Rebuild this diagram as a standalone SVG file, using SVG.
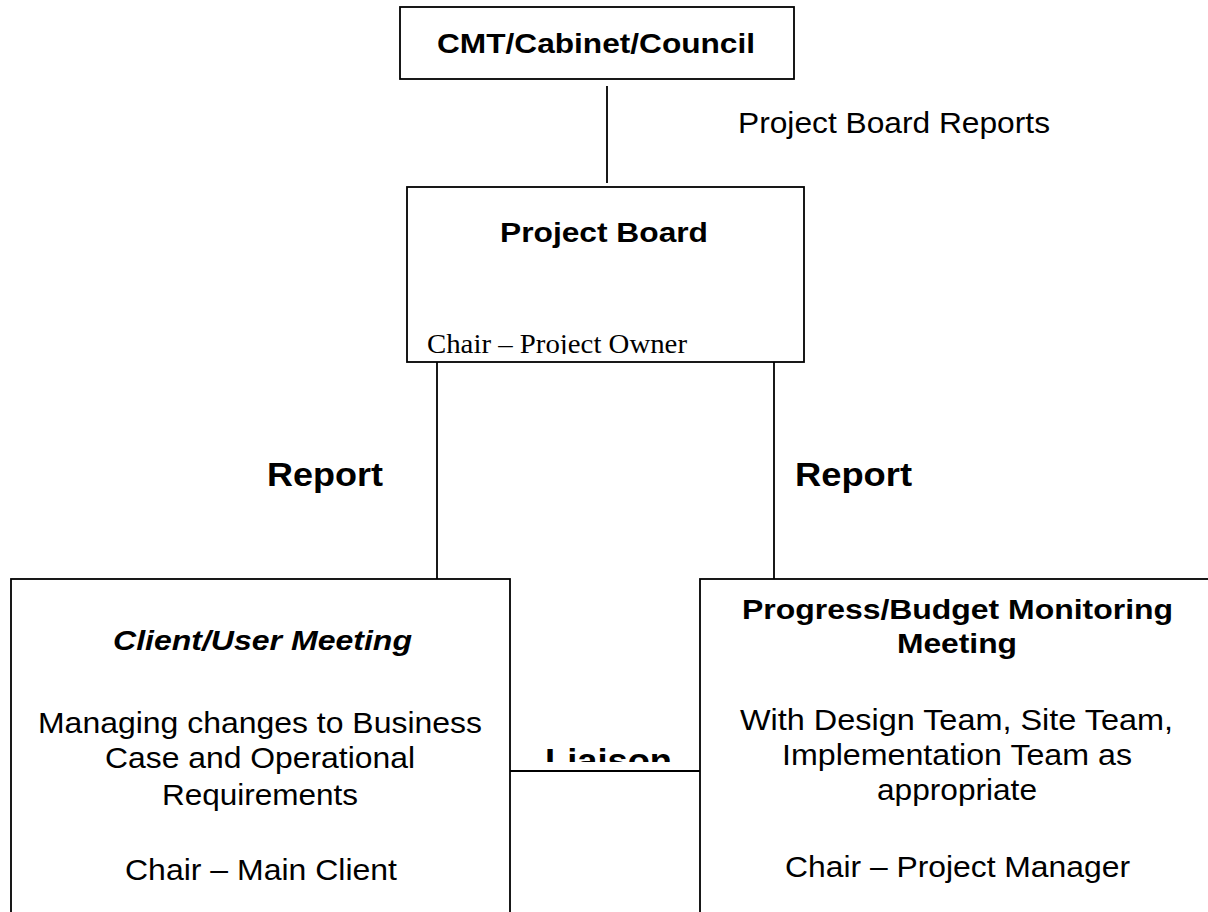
<svg xmlns="http://www.w3.org/2000/svg" width="1208" height="912" viewBox="0 0 1208 912">
<style>
.box{fill:#fff;stroke:#000;stroke-width:1.8}
.ln{stroke:#000;stroke-width:1.8;fill:none}
.b{font-family:"Liberation Sans",Arial,sans-serif;font-weight:bold;fill:#000}
.r{font-family:"Liberation Sans",Arial,sans-serif;fill:#000}
.t{font-family:"Liberation Serif","Times New Roman",serif;fill:#000}
</style>
<defs>
<clipPath id="clipOwner"><rect x="408" y="188" width="395" height="166"/></clipPath>
<clipPath id="clipLiaison"><rect x="511" y="700" width="188" height="62"/></clipPath>
</defs>
<rect width="1208" height="912" fill="#fff"/>
<g id="connectors">
<line class="ln" x1="607" y1="86" x2="607" y2="183"/>
<line class="ln" x1="437" y1="362" x2="437" y2="579"/>
<line class="ln" x1="774" y1="362" x2="774" y2="579"/>
<line class="ln" x1="510" y1="771" x2="700" y2="771"/>
<text class="r" x="738" y="133" font-size="29" textLength="312" lengthAdjust="spacingAndGlyphs">Project Board Reports</text>
<text class="b" x="267" y="486" font-size="33" textLength="116" lengthAdjust="spacingAndGlyphs">Report</text>
<text class="b" x="795" y="486" font-size="33" textLength="117" lengthAdjust="spacingAndGlyphs">Report</text>
<text class="b" x="545" y="772" font-size="33" textLength="127" lengthAdjust="spacingAndGlyphs" clip-path="url(#clipLiaison)">Liaison</text>
</g>
<g id="cmt">
<rect class="box" x="400" y="7" width="394" height="72"/>
<text class="b" x="437" y="53" font-size="28" textLength="318" lengthAdjust="spacingAndGlyphs">CMT/Cabinet/Council</text>
</g>
<g id="project-board">
<rect class="box" x="407" y="187" width="397" height="175"/>
<text class="b" x="500" y="242" font-size="27" textLength="208" lengthAdjust="spacingAndGlyphs">Project Board</text>
<text class="t" x="427" y="353" font-size="27" textLength="260" lengthAdjust="spacingAndGlyphs" clip-path="url(#clipOwner)">Chair – Project Owner</text>
</g>
<g id="client-user">
<rect class="box" x="11" y="579" width="499" height="345"/>
<text class="b" font-style="italic" x="113" y="650" font-size="28" textLength="299" lengthAdjust="spacingAndGlyphs">Client/User Meeting</text>
<text class="r" x="38" y="733" font-size="29" textLength="444" lengthAdjust="spacingAndGlyphs">Managing changes to Business</text>
<text class="r" x="105" y="768" font-size="29" textLength="310" lengthAdjust="spacingAndGlyphs">Case and Operational</text>
<text class="r" x="162" y="805" font-size="29" textLength="196" lengthAdjust="spacingAndGlyphs">Requirements</text>
<text class="r" x="125" y="880" font-size="29" textLength="272" lengthAdjust="spacingAndGlyphs">Chair – Main Client</text>
</g>
<g id="progress-budget">
<rect class="box" x="700" y="579" width="520" height="345"/>
<text class="b" x="742" y="619" font-size="28" textLength="431" lengthAdjust="spacingAndGlyphs">Progress/Budget Monitoring</text>
<text class="b" x="897" y="653" font-size="28" textLength="120" lengthAdjust="spacingAndGlyphs">Meeting</text>
<text class="r" x="740" y="730" font-size="29" textLength="433" lengthAdjust="spacingAndGlyphs">With Design Team, Site Team,</text>
<text class="r" x="782" y="765" font-size="29" textLength="350" lengthAdjust="spacingAndGlyphs">Implementation Team as</text>
<text class="r" x="877" y="800" font-size="29" textLength="160" lengthAdjust="spacingAndGlyphs">appropriate</text>
<text class="r" x="785" y="877" font-size="29" textLength="345" lengthAdjust="spacingAndGlyphs">Chair – Project Manager</text>
</g>
</svg>
